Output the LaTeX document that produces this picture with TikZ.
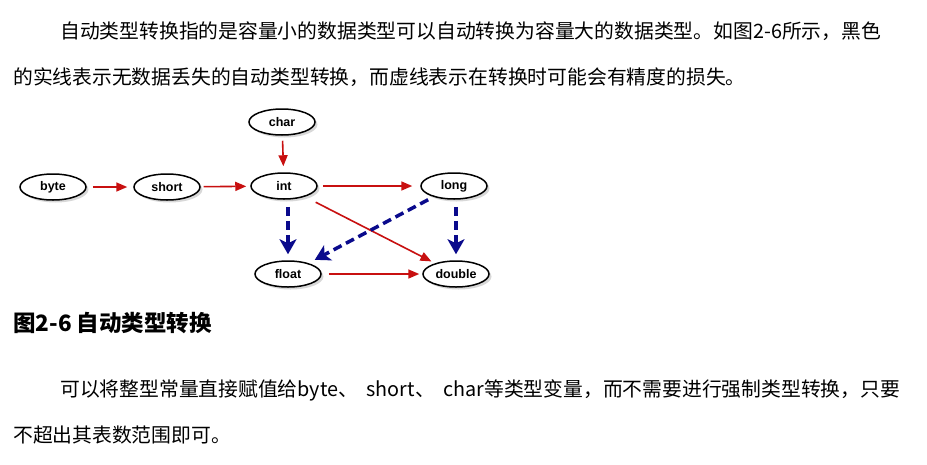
\documentclass[tikz,border=0pt]{standalone}
\usepackage{fontspec}
\setmainfont{Liberation Sans}
\newfontfamily\cjk{Noto Sans CJK SC}
\usetikzlibrary{arrows.meta,shapes.geometric,shadows}
\definecolor{arrred}{HTML}{C81010}
\definecolor{arrblue}{HTML}{0A0A8C}
\begin{document}
\begin{tikzpicture}[x=1pt,y=-1pt,
  typebox/.style={ellipse,draw=black,line width=1.5pt,fill=white,
    minimum width=66pt,minimum height=26pt,inner sep=0pt,
    font=\fontsize{12.5}{14}\selectfont\bfseries,
    drop shadow={shadow xshift=2.5pt,shadow yshift=-2.5pt,opacity=0.3,fill=gray}},
  solidarrow/.style={draw=arrred,line width=1.6pt,-{Triangle[length=11pt,width=9pt]}},
  dasharrow/.style={draw=arrblue,line width=3.5pt,dash pattern=on 9pt off 5pt,
    -{Stealth[length=15pt,width=17pt,inset=4pt]}},
  para/.style={anchor=west,inner sep=0pt,font=\cjk\fontsize{19.8}{24}\selectfont},
  caption/.style={anchor=west,inner sep=0pt,font=\cjk\bfseries\fontsize{22.5}{26}\selectfont}
]
\useasboundingbox[fill=white] (0,0) rectangle (927,464);

\node[para] (l1) at (60,31) {自动类型转换指的是容量小的数据类型可以自动转换为容量大的数据类型。如图2-6所示，黑色};
\node[para] (l2) at (13,77) {的实线表示无数据丢失的自动类型转换，而虚线表示在转换时可能会有精度的损失。};

\node[typebox] (char)   at (282,122) {char};
\node[typebox] (byte)   at (53,187)  {byte};
\node[typebox] (short)  at (167,187) {short};
\node[typebox] (int)    at (284,186) {int};
\node[typebox] (long)   at (454,186) {long};
\node[typebox] (float)  at (288,274) {float};
\node[typebox] (double) at (456,274) {double};

\draw[solidarrow,shorten <=6pt,shorten >=6pt] (byte) -- (short);
\draw[solidarrow,shorten <=3pt,shorten >=4pt] (short) -- (int);
\draw[solidarrow,shorten <=5pt,shorten >=8pt] (int) -- (long);
\draw[solidarrow,shorten <=5pt,shorten >=6pt] (char) -- (int);
\draw[solidarrow,shorten <=12pt,shorten >=4pt] (int) -- (double);
\draw[solidarrow,shorten <=7pt,shorten >=3pt] (float) -- (double);
\draw[dasharrow,shorten <=7pt,shorten >=6pt] (int.south -| float) -- (float);
\draw[dasharrow,shorten <=7pt,shorten >=6pt] (long.south -| double) -- (double);
\draw[dasharrow,shorten <=6pt,shorten >=7pt] (long) -- (float);

\node[caption] (cap) at (13,323) {图2-6 自动类型转换};
\node[para] (l3) at (60,390) {可以将整型常量直接赋值给byte、 \kern4pt short、 \kern4pt char等类型变量，而不需要进行强制类型转换，只要};
\node[para] (l4) at (13,435) {不超出其表数范围即可。};
\end{tikzpicture}
\end{document}
